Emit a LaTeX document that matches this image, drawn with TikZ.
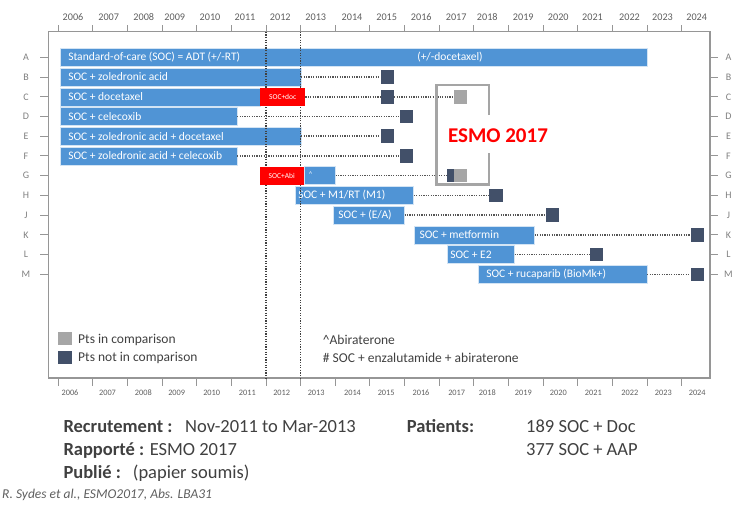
\documentclass[tikz,border=0pt]{standalone}
\usepackage{fontspec}
\setmainfont{Carlito}
\definecolor{barblue}{RGB}{80,148,213}
\definecolor{markdark}{RGB}{66,80,105}
\definecolor{markgray}{RGB}{166,166,166}
\definecolor{framegray}{RGB}{150,150,150}
\definecolor{bracketgray}{RGB}{165,165,165}
\definecolor{axistext}{RGB}{95,95,95}
\definecolor{bodytext}{RGB}{64,64,64}
\definecolor{dotgray}{RGB}{85,85,85}
\definecolor{esmored}{RGB}{255,0,0}
% fixed-width, left-aligned label inside a bar
\newcommand\bartext[2]{\makebox[#1][l]{#2}}

\begin{document}
\begin{tikzpicture}[x=1pt,y=-1pt,
  bar/.style={fill=barblue, draw=white!75!barblue, line width=0.5pt, anchor=west,
    minimum height=18pt, inner ysep=0pt, text=white, font=\fontsize{11.5}{12}\selectfont},
  bartxt/.style={inner sep=0pt, text=white, font=\fontsize{11.5}{12}\selectfont},
  armbox/.style={fill=esmored, anchor=west, minimum height=18pt, inner sep=0pt,
    text=white, font=\fontsize{7.5}{8}\selectfont},
  sq/.style={minimum size=13.5pt, inner sep=0pt, draw=none},
  conn/.style={draw=dotgray, line width=1.5pt, dash pattern=on 1.2pt off 1.2pt},
  vline/.style={draw=bodytext, line width=1.2pt, dash pattern=on 1.2pt off 1.4pt},
  yeartop/.style={text=axistext, font=\fontsize{10.2}{11}\selectfont, inner sep=0pt},
  yearbot/.style={text=axistext, font=\fontsize{8.3}{9}\selectfont, inner sep=0pt},
  rowlbl/.style={text=axistext!80, font=\fontsize{10}{11}\selectfont, inner sep=0pt},
  legtxt/.style={text=bodytext, anchor=west, inner sep=0pt, font=\fontsize{13.5}{15}\selectfont},
  infotxt/.style={text=bodytext, anchor=base west, inner sep=0pt, font=\fontsize{18.5}{20}\selectfont},
  tick/.style={draw=framegray, line width=1pt}
]
\useasboundingbox (0,0) rectangle (734,504);

% plot frame
\draw[draw=framegray, line width=1.3pt] (48.3,31.7) rectangle (710,378);

% year axes, top and bottom
\foreach \yr/\xt/\xb [count=\k from 0] in {2006/73/70, 2007/108.7/107.5, 2008/143.8/143.3,
    2009/174.8/176.7, 2010/210/211.7, 2011/245/247.3, 2012/280.3/281.7, 2013/315.8/316.2,
    2014/352/352.5, 2015/386.7/386.2, 2016/421.3/421, 2017/456.2/456.7, 2018/487.3/487.3,
    2019/523.3/523.3, 2020/558.3/558.3, 2021/592.5/593.3, 2022/629.5/629.8,
    2023/662.5/663.3, 2024/696.7/697.2} {
  \node[yeartop] (top\yr) at (\xt,17) {\yr};
  \node[yearbot] (bot\yr) at (\xb,393) {\yr};
  \draw[tick] ({58.3+34.63*\k},25) -- ({58.3+34.63*\k},31.7);
  \draw[tick] ({58.3+34.63*\k},378) -- ({58.3+34.63*\k},385.5);
}

% arm letters, left and right
\foreach \lt/\ry in {A/57.3, B/77, C/96.8, D/116.5, E/136.2, F/155.9, G/175.7,
    H/195.4, J/215.1, K/234.9, L/254.6, M/274.3} {
  \node[rowlbl] (left\lt) at (26,\ry) {\lt};
  \node[rowlbl] (right\lt) at (728.5,\ry) {\lt};
  \draw[tick] (40,\ry) -- (48.3,\ry);
  \draw[tick] (710,\ry) -- (718,\ry);
}

% recruitment bars
\node[bar, inner xsep=8pt] (barA) at (60,57.3) {\bartext{571.3pt}{Standard-of-care (SOC) = ADT (+/-RT)}};
\node[bartxt] (docA) at (450,57.3) {(+/-docetaxel)};
\node[bar, inner xsep=8pt] (barB) at (60,77) {\bartext{224.7pt}{SOC + zoledronic acid}};
\node[bar, inner xsep=8pt] (barC) at (60,96.8) {\bartext{184pt}{SOC + docetaxel}};
\node[bar, inner xsep=8pt] (barD) at (60,116.5) {\bartext{160.7pt}{SOC + celecoxib}};
\node[bar, inner xsep=8pt] (barE) at (60,136.2) {\bartext{224.7pt}{SOC + zoledronic acid + docetaxel}};
\node[bar, inner xsep=8pt] (barF) at (60,155.9) {\bartext{160.7pt}{SOC + zoledronic acid + celecoxib}};
\node[bar, inner xsep=5pt] (barG) at (303.5,175.7) {\bartext{21.5pt}{\raisebox{3pt}{\fontsize{7}{8}\selectfont\textasciicircum}}};
\node[bar, inner xsep=3pt] (barH) at (295,195.4) {\bartext{112.3pt}{SOC + M1/RT (M1)}};
\node[bar, inner xsep=5.5pt] (barJ) at (332.7,215.1) {\bartext{60.3pt}{SOC + (E/A)}};
\node[bar, inner xsep=5.3pt] (barK) at (414,234.9) {\bartext{109.7pt}{SOC + metformin}};
\node[bar, inner xsep=3.3pt] (barL) at (446.7,254.6) {\bartext{60.7pt}{SOC + E2}};
\node[bar, inner xsep=7.7pt] (barM) at (478.3,274.3) {\bartext{153pt}{SOC + rucaparib (BioMk+)}};

% recruitment window Nov-2011 to Mar-2013
\coordinate (winAtop) at ({58.3+34.63*6},31.7);
\coordinate (winAbot) at ({58.3+34.63*6},378);
\coordinate (winBtop) at ({58.3+34.63*7},31.7);
\coordinate (winBbot) at ({58.3+34.63*7},378);
\draw[vline] (winAtop) -- (winAbot);
\draw[vline] (winBtop) -- (winBbot);

% comparison arms
\node[armbox, minimum width=45pt] (redC) at (260,96.8) {SOC+doc};
\node[armbox, minimum width=44pt] (redG) at (259.5,175.7) {SOC+Abi};

% results markers
\node[sq, fill=markdark] (sqB) at (387.3,77) {};
\node[sq, fill=markdark] (sqC) at (387.3,96.8) {};
\node[sq, fill=markgray] (sqC2) at (460.3,96.8) {};
\node[sq, fill=markdark] (sqD) at (406.7,116.5) {};
\node[sq, fill=markdark] (sqE) at (387.3,136.2) {};
\node[sq, fill=markdark] (sqF) at (406.7,155.9) {};
\node[sq, fill=markdark] (sqG) at (453.3,175.7) {};
\node[sq, fill=markgray] (sqG2) at (460.3,175.7) {};
\node[sq, fill=markdark] (sqH) at (496,195.4) {};
\node[sq, fill=markdark] (sqJ) at (552.7,215.1) {};
\node[sq, fill=markdark] (sqK) at (697.3,234.9) {};
\node[sq, fill=markdark] (sqL) at (596.7,254.6) {};
\node[sq, fill=markdark] (sqM) at (697.3,274.3) {};

% follow-up connectors
\draw[conn] (barB.east) -- (sqB.west);
\draw[conn] (redC.east) -- (sqC.west);
\draw[conn] (sqC.east) -- (sqC2.west);
\draw[conn] (barD.east) -- (sqD.west);
\draw[conn] (barE.east) -- (sqE.west);
\draw[conn] (barF.east) -- (sqF.west);
\draw[conn] (barG.east) -- (sqG.west);
\draw[conn] (barH.east) -- (sqH.west);
\draw[conn] (barJ.east) -- (sqJ.west);
\draw[conn] (barK.east) -- (sqK.west);
\draw[conn] (barL.east) -- (sqL.west);
\draw[conn] (barM.east) -- (sqM.west);

% ESMO 2017 bracket
\draw[draw=bracketgray, line width=2.8pt] (489,115) -- (489,85) -- (436.7,85)
  -- (436.7,184.3) -- (489,184.3) -- (489,153.3);
\node[text=esmored, inner sep=0pt, font=\fontsize{21}{23}\bfseries] (esmo) at (498,135.5) {ESMO 2017};

% legend
\node[sq, fill=markgray] (legIn) at (65,338.3) {};
\node[sq, fill=markdark] (legOut) at (65,357.3) {};
\node[legtxt] (legInTxt) at (78,339.5) {Pts in comparison};
\node[legtxt] (legOutTxt) at (78,358) {Pts not in comparison};
\node[legtxt] (noteAbi) at (322.7,339.5) {\textasciicircum Abiraterone};
\node[legtxt] (noteEA) at (322.7,358) {\# SOC + enzalutamide + abiraterone};

% trial summary
\node[infotxt, font=\fontsize{18.5}{20}\bfseries] (recK) at (63.3,432.3) {Recrutement :};
\node[infotxt] (recV) at (185,432.3) {Nov-2011 to Mar-2013};
\node[infotxt] (repK) at (63.3,455.7) {\textbf{Rapporté :} ESMO 2017};
\node[infotxt, font=\fontsize{18.5}{20}\bfseries] (pubK) at (63.3,478) {Publié :};
\node[infotxt] (pubV) at (132.7,478) {(papier soumis)};
\node[infotxt, font=\fontsize{18.5}{20}\bfseries] (patK) at (406.7,432.3) {Patients:};
\node[infotxt] (patV1) at (526,432.3) {189 SOC + Doc};
\node[infotxt] (patV2) at (526,455.7) {377 SOC + AAP};
\node[text=axistext, anchor=base west, inner sep=0pt, font=\fontsize{13.5}{15}\itshape] (ref) at (2,498.5) {R. Sydes et al., ESMO2017, Abs. LBA31};
\end{tikzpicture}
\end{document}
